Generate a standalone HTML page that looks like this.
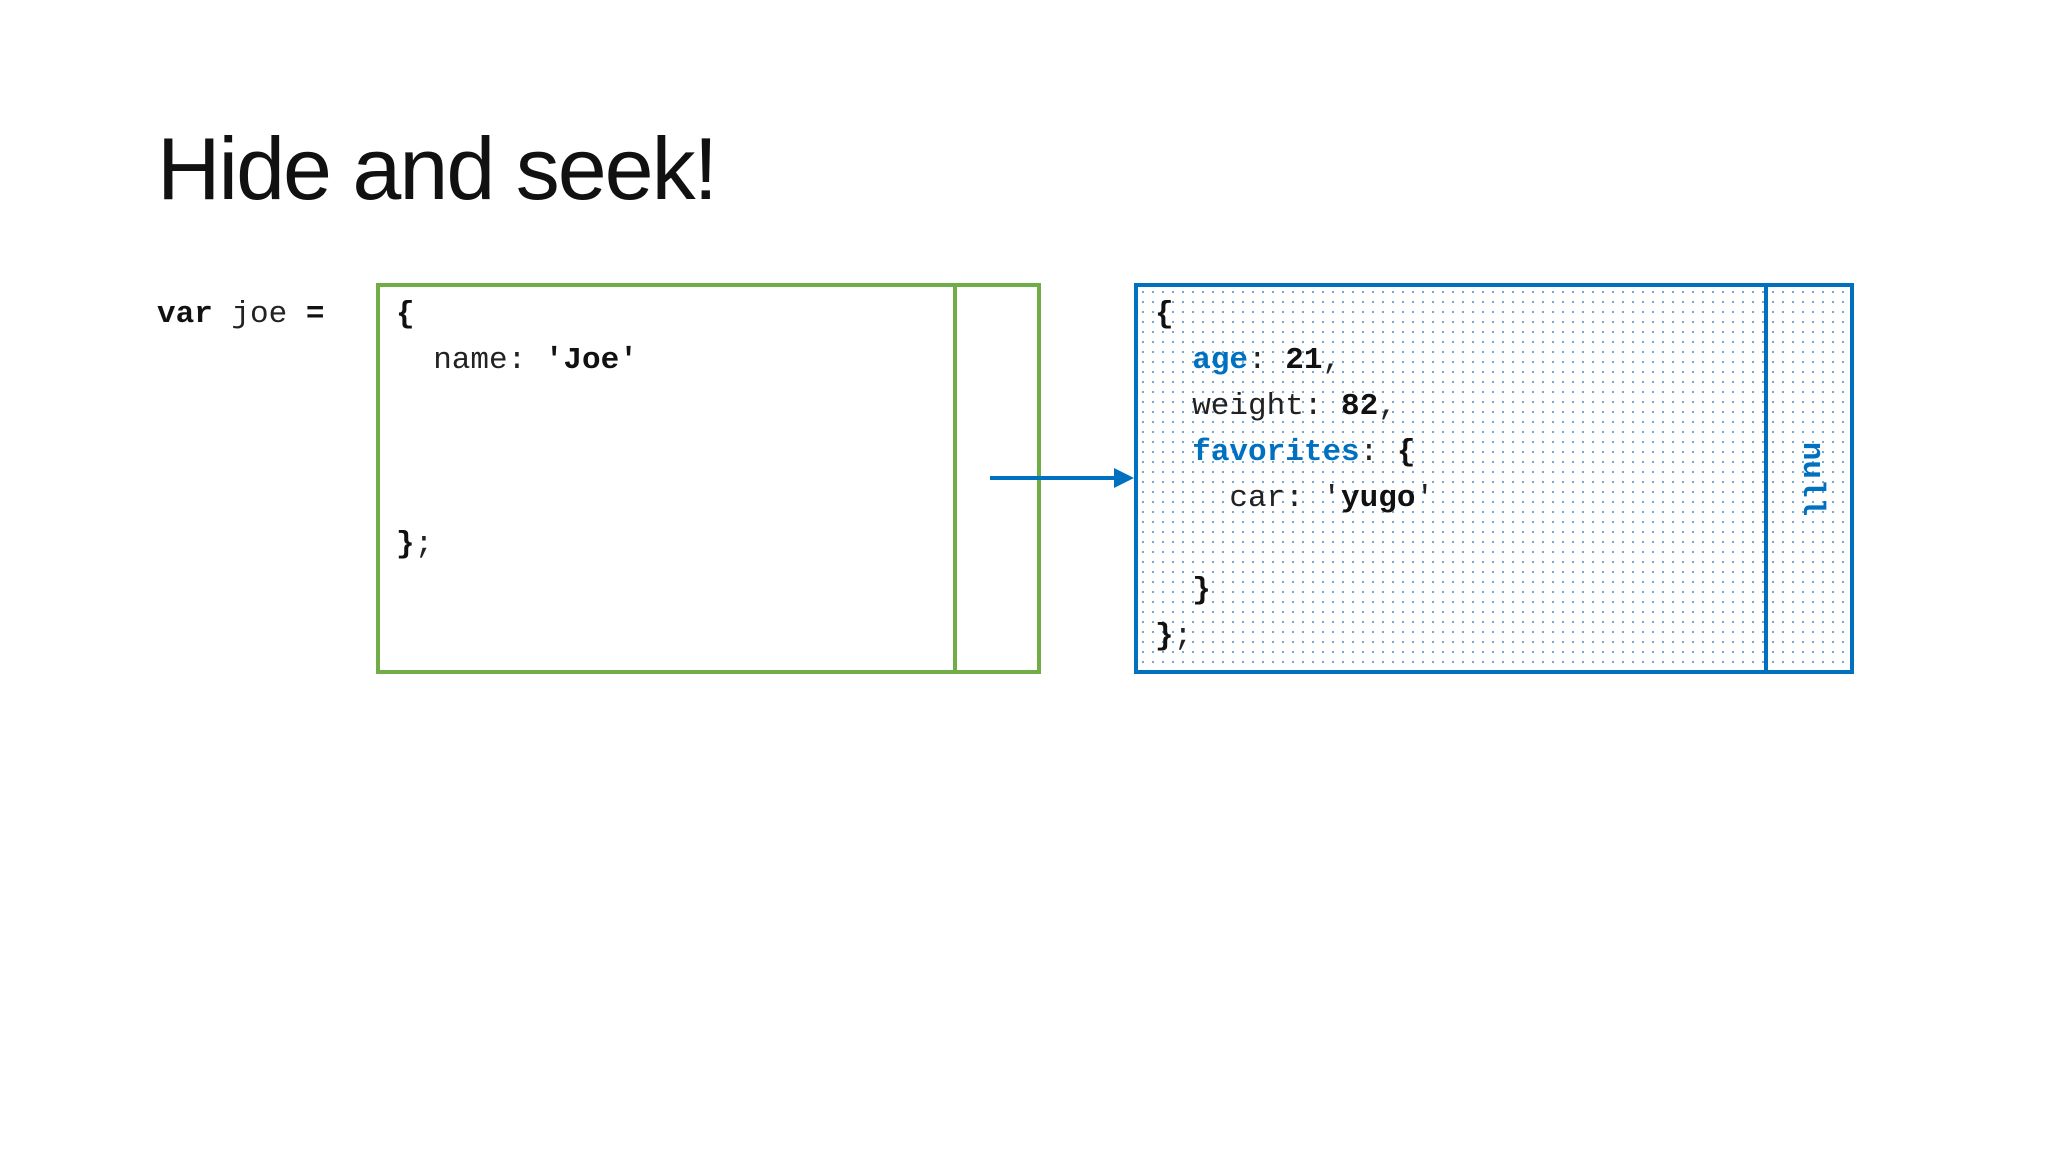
<!DOCTYPE html>
<html><head><meta charset="utf-8"><style>
body{margin:0;width:2048px;height:1152px;background:#fff;position:relative;overflow:hidden;font-family:"Liberation Mono",monospace}
.t{position:absolute;left:157px;top:118px;font-family:"Liberation Sans",sans-serif;font-size:88px;color:#111;letter-spacing:-2px}
.box{position:absolute;box-sizing:border-box}
.c{position:absolute;font-size:31px;line-height:46px;white-space:pre;color:#222}
b{font-weight:bold;color:#111}
.bl{color:#0070c0;font-weight:bold}
.dots{background-image:radial-gradient(circle,#6a9fd0 0.9px,transparent 1.3px);background-size:10px 10px}
</style></head><body>
<div class="t">Hide and seek!</div>
<div class="box" style="left:376px;top:283px;width:665px;height:391px;border:4px solid #70ad47"></div>
<div class="box" style="left:953px;top:283px;width:4px;height:391px;background:#70ad47"></div>
<div class="box dots" style="left:1134px;top:283px;width:720px;height:391px;border:4px solid #0070c0"></div>
<div class="box" style="left:1764px;top:283px;width:4px;height:391px;background:#0070c0"></div>
<svg style="position:absolute;left:0;top:0" width="2048" height="1152">
<line x1="990" y1="478" x2="1118" y2="478" stroke="#0070c0" stroke-width="4"/>
<polygon points="1134,478 1114,468 1114,488" fill="#0070c0"/>
</svg>
<div class="c" style="left:157px;top:292px"><b>var</b> joe <b>=</b></div>
<div class="c" style="left:396px;top:292px"><b>{</b>
  name: <b>'Joe'</b>



<b>}</b>;</div>
<div class="c" style="left:1155px;top:292px"><b>{</b>
  <span class="bl">age</span>: <b>21</b>,
  weight: <b>82</b>,
  <span class="bl">favorites</span>: <b>{</b>
    car: '<b>yugo</b>'

  <b>}</b>
<b>}</b>;</div>
<div class="c bl" style="left:1811px;top:479px;transform:translate(-50%,-50%) rotate(90deg)">null</div>
</body></html>
